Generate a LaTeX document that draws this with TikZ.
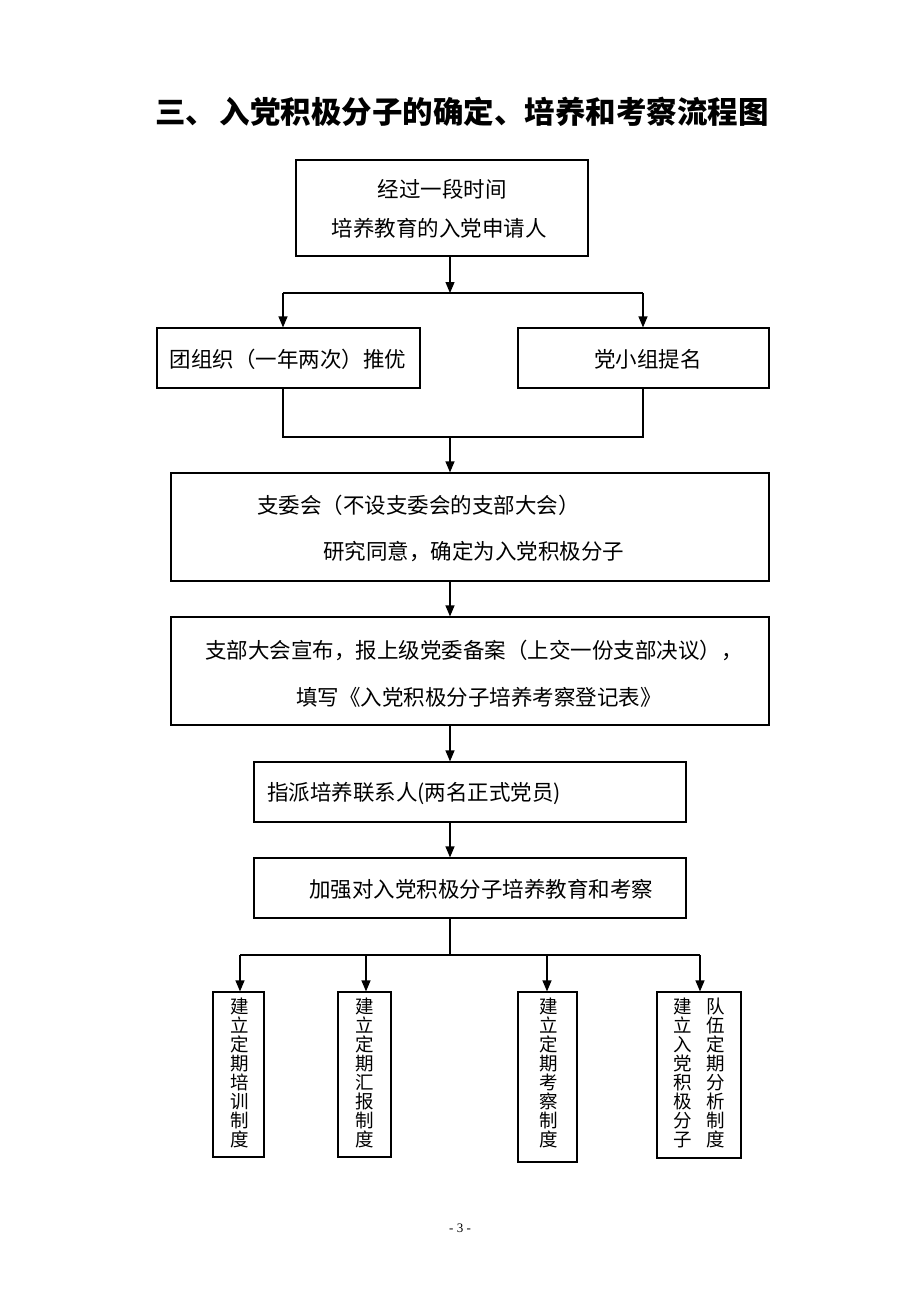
\documentclass[tikz,border=0pt]{standalone}
\usepackage{fontspec}
\setmainfont{Liberation Serif}
\newfontfamily\cjk{Noto Sans CJK SC}
\usetikzlibrary{arrows.meta}
\begin{document}
\begin{tikzpicture}[x=1pt,y=-1pt,
  box/.style={draw, line width=1.2pt, inner sep=0pt},
  txt/.style={font=\cjk\fontsize{21.5}{24}\selectfont, inner sep=0pt, anchor=west},
  txtc/.style={font=\cjk\fontsize{21.5}{24}\selectfont, inner sep=0pt},
  vtxt/.style={font=\cjk\fontsize{18.5}{19}\selectfont, inner sep=0pt, align=center},
  conn/.style={line width=1.2pt},
  arr/.style={conn, -{Triangle[length=11pt,width=9pt]}}]
\useasboundingbox (0,0) rectangle (920,1302);
% title
\node[font=\cjk\bfseries\fontsize{30.5}{34}\selectfont, inner sep=0pt] (title) at (462,112) {三、\hspace{4pt}入党积极分子的确定、培养和考察流程图};
% boxes
\node[box, minimum width=292pt, minimum height=96pt] (b1) at (442,208) {};
\node[box, minimum width=263pt, minimum height=60pt] (b2l) at (288.5,358) {};
\node[box, minimum width=251pt, minimum height=60pt] (b2r) at (643.5,358) {};
\node[box, minimum width=598pt, minimum height=108pt] (b3) at (470,527) {};
\node[box, minimum width=598pt, minimum height=108pt] (b4) at (470,671) {};
\node[box, minimum width=432pt, minimum height=60pt] (b5) at (470,792) {};
\node[box, minimum width=432pt, minimum height=60pt] (b6) at (470,888) {};
\node[box, minimum width=51pt, minimum height=165pt] (c1) at (238.5,1074.5) {};
\node[box, minimum width=53pt, minimum height=165pt] (c2) at (364.5,1074.5) {};
\node[box, minimum width=59pt, minimum height=170pt] (c3) at (547.5,1077) {};
\node[box, minimum width=84pt, minimum height=166pt] (c4) at (699,1075) {};
% texts
\node[txtc] (t1a) at (442,189) {经过一段时间};
\node[txtc] (t1b) at (439,228) {培养教育的入党申请人};
\node[txtc] (tl) at (288,359) {团组织（一年两次）推优};
\node[txtc] (tr) at (648,359) {党小组提名};
\node[txt] (t3a) at (257,505) {支委会（不设支委会的支部大会）};
\node[txt] (t3b) at (323,552) {研究同意，确定为入党积极分子};
\node[txt] (t4a) at (205,650) {支部大会宣布，报上级党委备案（上交一份支部决议），};
\node[txt] (t4b) at (296,697) {填写《入党积极分子培养考察登记表》};
\node[txt] (t5) at (267,793) {指派培养联系人(两名正式党员)};
\node[txt] (t6) at (309,889) {加强对入党积极分子培养教育和考察};
\node[vtxt] (v1) at (240,1073) {建\\立\\定\\期\\培\\训\\制\\度};
\node[vtxt] (v2) at (365,1073) {建\\立\\定\\期\\汇\\报\\制\\度};
\node[vtxt] (v3) at (549,1073) {建\\立\\定\\期\\考\\察\\制\\度};
\node[vtxt] (v4a) at (683,1073) {建\\立\\入\\党\\积\\极\\分\\子};
\node[vtxt] (v4b) at (716,1073) {队\\伍\\定\\期\\分\\析\\制\\度};
\node[font=\fontsize{13}{15}\selectfont, inner sep=0pt] (pg) at (460,1228) {- 3 -};
% connectors
\coordinate (j) at (450,293);
\coordinate (jl) at (283,293);
\coordinate (jr) at (643,293);
\draw[arr] (b1.south -| j) -- (j);
\draw[conn] (jl) -- (jr);
\draw[arr] (jl) -- (jl |- b2l.north);
\draw[arr] (jr) -- (jr |- b2r.north);
\coordinate (k) at (450,437);
\coordinate (kl) at (283,437);
\coordinate (kr) at (643,437);
\draw[conn] (kl |- b2l.south) -- (kl) -- (kr) -- (kr |- b2r.south);
\draw[arr] (k) -- (k |- b3.north);
\draw[arr] (b3.south -| k) -- (b4.north -| k);
\draw[arr] (b4.south -| k) -- (b5.north -| k);
\draw[arr] (b5.south -| k) -- (b6.north -| k);
\coordinate (m) at (450,955);
\coordinate (m1) at (240,955);
\coordinate (m2) at (366,955);
\coordinate (m3) at (547,955);
\coordinate (m4) at (700,955);
\draw[conn] (b6.south -| m) -- (m);
\draw[conn] (m1) -- (m4);
\draw[arr] (m1) -- (m1 |- c1.north);
\draw[arr] (m2) -- (m2 |- c2.north);
\draw[arr] (m3) -- (m3 |- c3.north);
\draw[arr] (m4) -- (m4 |- c4.north);
\end{tikzpicture}
\end{document}
